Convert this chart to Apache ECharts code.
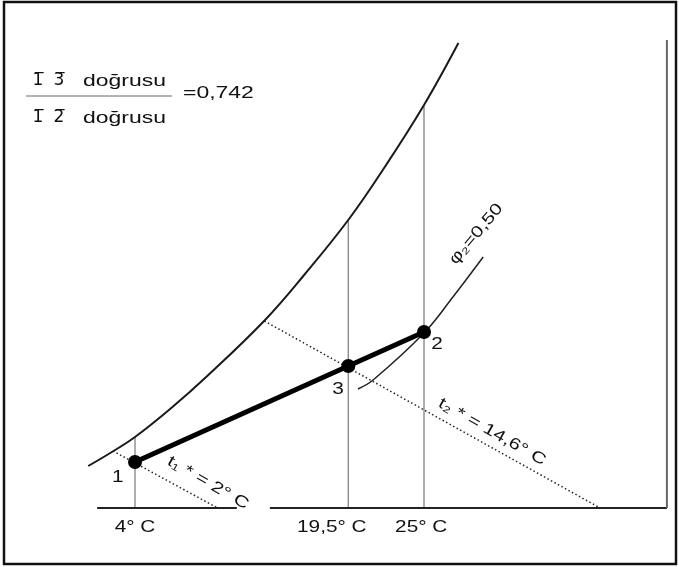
<!DOCTYPE html>
<html>
<head>
<meta charset="utf-8">
<script src="https://cdn.jsdelivr.net/npm/echarts@6/dist/echarts.min.js"></script>
<style>
  html, body { margin: 0; padding: 0; background: #fff; }
  #chart { width: 679px; height: 567px; }
</style>
</head>
<body>
<div id="chart"></div>
<script>
// Dry-bulb temperature (°C) and moisture content (g/kg) along the saturation curve
const saturationT = [0.6, 2.2, 4.0, 6.55, 9.25, 13.45, 16.35, 19.55, 22.15, 25.0, 27.5];
const saturationW = [2.1, 2.75, 3.55, 4.95, 6.6, 9.4, 11.7, 14.45, 17.05, 20.15, 23.25];

// Relative humidity curve φ = 0.50 through state 2
const rh50T = [20.2, 21.3, 25.0, 27.1, 29.3];
const rh50W = [5.95, 6.4, 8.75, 10.55, 12.55];

// State points: 1 (outside air), 3 (mixture), 2 (room air)
const stateNames = ['1', '3', '2'];
const stateT = [4, 19.5, 25];
const stateW = [2.3, 7.1, 8.8];

// Dry-bulb lines from the saturation curve down to the base line
const dryBulbT = [4, 19.5, 25];
const dryBulbTopW = [3.55, 14.45, 20.15];

// Wet-bulb lines (t1* = 2 °C, t2* = 14.6 °C)
const wetBulb1T = [2.4, 10.0];
const wetBulb1W = [2.85, 0];
const wetBulb2T = [13.4, 37.8];
const wetBulb2W = [9.35, 0];

// Base line pieces and right-hand scale line
const baseLeftT = [1.25, 11.4];
const baseRightT = [13.8, 42.65];
const scaleLineT = 42.65;
const scaleLineTopW = 23.4;

// Annotations
const tickLabels = ['4° C', '19,5° C', '25° C'];
const tickLabelT = [4, 18.3, 24.8];
const curveLabels = ['φ₂=0,50', 't₁ * = 2° C', 't₂ * = 14,6° C'];
const curveLabelT = [28.8, 9.3, 29.95];
const curveLabelW = [13.7, 1.25, 3.8];
const curveLabelAngle = [50, -30, -29.5];
const stateLabelT = [2.75, 18.75, 25.95];
const stateLabelW = [1.5, 5.9, 8.15];

const ratioTop = 'doğrusu';
const ratioValue = '=0,742';

const FONT = '"Liberation Sans", "DejaVu Sans", sans-serif';
const INK = '#111';

const pairs = (xs, ys) => xs.map((x, i) => [x, ys[i]]);

// Collect every annotation text with its anchor in chart units
const texts = [];
tickLabels.forEach((t, i) => texts.push({ text: t, at: [tickLabelT[i], -1.0], angle: 0 }));
stateNames.forEach((t, i) => texts.push({ text: t, at: [stateLabelT[i], stateLabelW[i]], angle: 0 }));
curveLabels.forEach((t, i) => texts.push({ text: t, at: [curveLabelT[i], curveLabelW[i]], angle: curveLabelAngle[i] }));

const series = [];

// saturation curve
series.push({
  type: 'line', data: pairs(saturationT, saturationW), smooth: 0.4,
  symbol: 'none', lineStyle: { color: '#1a1a1a', width: 2 }, z: 3
});

// φ = 0.50
series.push({
  type: 'line', data: pairs(rh50T, rh50W), smooth: 0.4,
  symbol: 'none', lineStyle: { color: '#222', width: 1.5 }, z: 3
});

// dry-bulb verticals
dryBulbT.forEach((t, i) => {
  series.push({
    type: 'line', data: [[t, 0], [t, dryBulbTopW[i]]], symbol: 'none',
    lineStyle: { color: '#8a8a8a', width: 1.4 }, z: 2
  });
});

// wet-bulb lines
[[wetBulb1T, wetBulb1W], [wetBulb2T, wetBulb2W]].forEach(([ts, ws]) => {
  series.push({
    type: 'line', data: pairs(ts, ws), symbol: 'none',
    lineStyle: { color: '#222', width: 1.5, type: [1.5, 2.5] }, z: 2
  });
});

// base line pieces
[baseLeftT, baseRightT].forEach(ts => {
  series.push({
    type: 'line', data: ts.map(t => [t, 0]), symbol: 'none',
    lineStyle: { color: '#222', width: 2 }, z: 2
  });
});

// right-hand scale line
series.push({
  type: 'line', data: [[scaleLineT, 0], [scaleLineT, scaleLineTopW]], symbol: 'none',
  lineStyle: { color: '#666', width: 2 }, z: 2
});

// mixing line 1 – 2 with state points
series.push({
  type: 'line', data: pairs(stateT, stateW), symbol: 'circle', symbolSize: 14,
  itemStyle: { color: '#000' }, lineStyle: { color: '#000', width: 5 }, z: 5
});

// annotation texts placed through the axes
series.push({
  type: 'custom', coordinateSystem: 'cartesian2d', silent: true, z: 6,
  data: texts.map((d, i) => [d.at[0], d.at[1], i]),
  renderItem(params, api) {
    const d = texts[api.value(2)];
    const c = api.coord([api.value(0), api.value(1)]);
    return {
      type: 'text', x: c[0], y: c[1],
      rotation: d.angle * Math.PI / 180, scaleX: 1.3,
      style: { text: d.text, font: '16px ' + FONT, fill: INK, align: 'center', verticalAlign: 'middle' }
    };
  }
});

const chart = echarts.init(document.getElementById('chart'), null, { renderer: 'canvas' });

chart.setOption({
  animation: false,
  backgroundColor: '#fff',
  grid: { left: 11.14, top: 28, width: 660.58, height: 520 },
  xAxis: { type: 'value', min: -5, max: 43, show: false },
  yAxis: { type: 'value', min: -2, max: 24, show: false },
  series,
  graphic: [
    // outer frame
    { type: 'rect', shape: { x: 4, y: 2, width: 672, height: 562 },
      style: { fill: 'none', stroke: '#111', lineWidth: 2.5 }, silent: true },
    // ratio of segment lengths
    { type: 'text', x: 38, y: 81, style: { text: '1\u0305', font: '17px "DejaVu Sans"', fill: INK, align: 'center', verticalAlign: 'middle' } },
    { type: 'text', x: 59, y: 81, style: { text: '3\u0305', font: '17px "DejaVu Sans"', fill: INK, align: 'center', verticalAlign: 'middle' } },
    { type: 'text', x: 83, y: 81, scaleX: 1.35, style: { text: ratioTop, font: '17px ' + FONT, fill: INK, align: 'left', verticalAlign: 'middle' } },
    { type: 'line', shape: { x1: 26, y1: 96, x2: 172, y2: 96 }, style: { stroke: '#666', lineWidth: 1 } },
    { type: 'text', x: 38, y: 118, style: { text: '1\u0305', font: '17px "DejaVu Sans"', fill: INK, align: 'center', verticalAlign: 'middle' } },
    { type: 'text', x: 59, y: 118, style: { text: '2\u0305', font: '17px "DejaVu Sans"', fill: INK, align: 'center', verticalAlign: 'middle' } },
    { type: 'text', x: 83, y: 118, scaleX: 1.35, style: { text: ratioTop, font: '17px ' + FONT, fill: INK, align: 'left', verticalAlign: 'middle' } },
    { type: 'text', x: 183, y: 93, scaleX: 1.35, style: { text: ratioValue, font: '17px ' + FONT, fill: INK, align: 'left', verticalAlign: 'middle' } }
  ]
});
</script>
</body>
</html>
